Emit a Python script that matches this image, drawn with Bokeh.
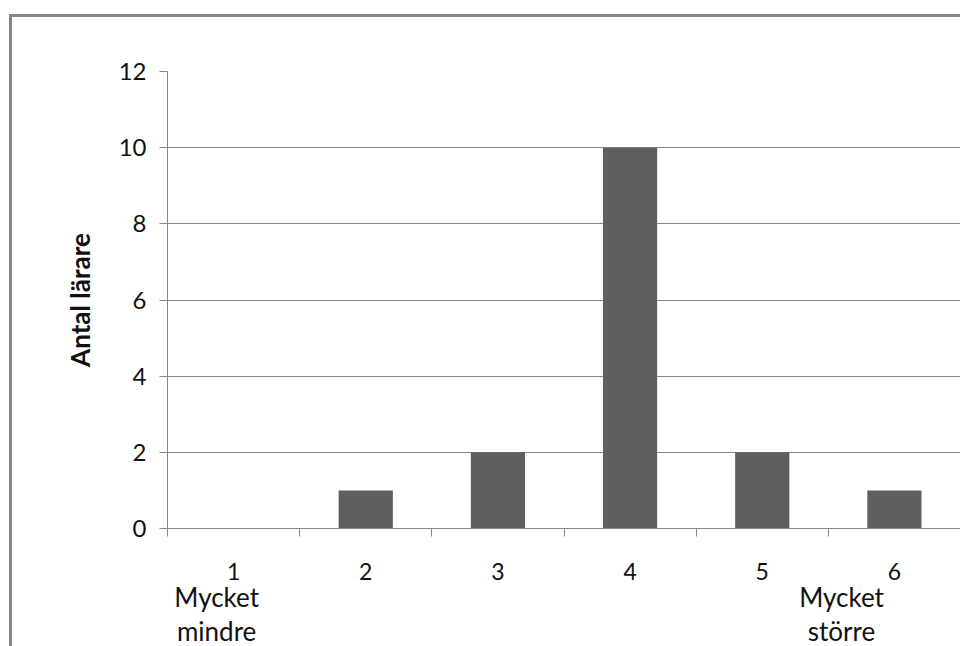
from bokeh.plotting import figure
from bokeh.models import Range1d, FixedTicker, LinearAxis
from bokeh.embed import file_html
from bokeh.resources import INLINE

# ---- data ----
categories = ["1", "2", "3", "4", "5", "6"]
counts = [0, 1, 2, 10, 2, 1]
y_ticks = [0, 2, 4, 6, 8, 10, 12]
low_label = ["Mycket", "mindre"]
high_label = ["Mycket", "större"]
y_title = "Antal lärare"

xs = list(range(1, len(categories) + 1))
FONT = "Lato"
GRAY = "#868686"
TXT = "#111111"

p = figure(width=951, height=632, output_backend="svg", toolbar_location=None,
           x_range=Range1d(0.5, len(categories) + 0.5), y_range=Range1d(0, 12),
           min_border_left=155, min_border_right=3, min_border_top=54,
           min_border_bottom=117)
p.styles = {"position": "relative", "top": "14px", "left": "9px",
            "border-left": "3px solid #878787", "border-top": "3px solid #878787"}
p.outline_line_color = None
p.background_fill_color = "white"
p.border_fill_color = "white"

p.vbar(x=xs, top=counts, width=0.41, fill_color="#5f5f5f", line_color=None)

# grid
p.xgrid.visible = False
p.ygrid.ticker = FixedTicker(ticks=y_ticks)
p.ygrid.grid_line_color = GRAY

# y axis
ya = p.yaxis[0]
ya.ticker = FixedTicker(ticks=y_ticks)
ya.axis_line_color = GRAY
ya.major_tick_line_color = GRAY
ya.major_tick_out = 8
ya.major_tick_in = 0
ya.minor_tick_line_color = None
ya.major_label_text_font = FONT
ya.major_label_text_font_size = "24px"
ya.major_label_text_color = TXT
ya.major_label_standoff = 13
ya.axis_label = y_title
ya.axis_label_text_font = FONT
ya.axis_label_text_font_style = "bold"
ya.axis_label_text_font_size = "26px"
ya.axis_label_text_color = TXT
ya.axis_label_standoff = 20

# x axis
xa = p.xaxis[0]
xa.ticker = FixedTicker(ticks=xs, minor_ticks=[x - 0.5 for x in xs] + [xs[-1] + 0.5])
xa.major_label_overrides = {x: c for x, c in zip(xs, categories)}
xa.axis_line_color = GRAY
xa.major_tick_line_color = None
xa.major_tick_out = 0
xa.major_tick_in = 0
xa.minor_tick_line_color = GRAY
xa.minor_tick_out = 8
xa.minor_tick_in = 0
xa.major_label_text_font = FONT
xa.major_label_text_font_size = "23px"
xa.major_label_text_color = TXT
xa.major_label_standoff = 26

# end-point descriptions as line-less axes (one per text line)
lo_x = xs[0] - 0.128
hi_x = xs[-1] - 0.40
for i, standoff in enumerate((-2, -1)):
    ax = LinearAxis(ticker=FixedTicker(ticks=[lo_x, hi_x], minor_ticks=[]),
                    major_label_overrides={lo_x: low_label[i], hi_x: high_label[i]},
                    axis_line_color=None, major_tick_line_color=None,
                    minor_tick_line_color=None, major_tick_out=0, major_tick_in=0,
                    major_label_standoff=standoff, major_label_text_font=FONT,
                    major_label_text_font_size="26px",
                    major_label_text_color=TXT)
    p.add_layout(ax, "below")

open("out.html", "w").write(file_html(p, INLINE))
